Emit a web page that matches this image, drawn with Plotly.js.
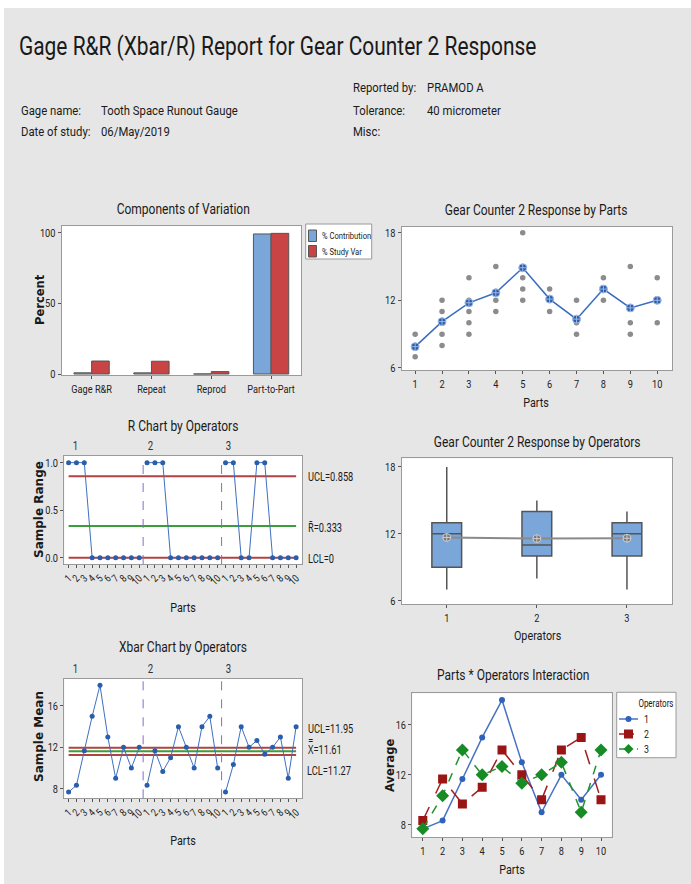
<!DOCTYPE html>
<html>
<head>
<meta charset="utf-8">
<script src="https://cdn.plot.ly/plotly-3.0.1.min.js"></script>
<style>html,body{margin:0;padding:0;background:#e6e6e6;}#chart{width:691px;height:884px;}</style>
</head>
<body>
<div id="chart"></div>
<script>
// ---------------- DATA ----------------
const components = ['Gage R&R', 'Repeat', 'Reprod', 'Part-to-Part'];
const pctContribution = [0.85, 0.82, 0.03, 99.15];
const pctStudyVar = [9.2, 9.05, 1.7, 99.57];
const covLegendNames = ['% Contribution', '% Study Var'];

const parts = [1, 2, 3, 4, 5, 6, 7, 8, 9, 10];
const partLabels = ['1', '2', '3', '4', '5', '6', '7', '8', '9', '10'];
const partMeans = [7.89, 10.11, 11.78, 12.67, 14.89, 12.11, 10.33, 13.0, 11.33, 12.0];
const partObserved = [
  [7, 8, 9], [8, 9, 10, 11, 12], [9, 10, 11, 12, 14], [11, 12, 15], [12, 13, 14, 18],
  [11, 12, 13], [9, 10, 12], [12, 13, 14], [9, 10, 15], [10, 12, 14]
];

const operators = ['1', '2', '3'];
const op1Means = [7.67, 8.33, 11.67, 15, 18, 13, 9, 12, 10, 12];
const op2Means = [8.33, 11.67, 9.67, 11, 14, 12, 10, 14, 15, 10];
const op3Means = [7.67, 10.33, 14, 12, 12.67, 11.33, 12, 13, 9, 14];
const op1Ranges = [1, 1, 1, 0, 0, 0, 0, 0, 0, 0];
const op2Ranges = [1, 1, 1, 0, 0, 0, 0, 0, 0, 0];
const op3Ranges = [1, 1, 0, 0, 1, 1, 0, 0, 0, 0];

const rUCL = 0.858, rBar = 0.333, rLCL = 0;
const xUCL = 11.95, xBarBar = 11.61, xLCL = 11.27;

const boxQ1 = [9, 10, 10];
const boxMedian = [12, 11, 12];
const boxQ3 = [13, 14, 13];
const boxLow = [7, 8, 7];
const boxHigh = [18, 15, 14];
const boxMean = [11.67, 11.57, 11.60];

const headerLeft = [['Gage name:', 'Tooth Space Runout Gauge'], ['Date of study:', '06/May/2019']];
const headerRight = [['Reported by:', 'PRAMOD A'], ['Tolerance:', '40 micrometer'], ['Misc:', '']];

// ---------------- HELPERS ----------------
const W = 691, H = 884;
const px = x => x / W;
const py = y => 1 - y / H;
const NARROW = 'Roboto, "Noto Sans", sans-serif';
const BOLDF = '"DejaVu Sans", Verdana, sans-serif';
const TXT = '#1a1a1a';
const BLUE_BAR = '#7ba6da', RED_BAR = '#c94444';
const DATA_BLUE = '#2a5eab';
const LIM_RED = '#b34242', CTR_GREEN = '#3a9e3a', DIV_PURPLE = '#8a6ad0';
const OP_COLORS = ['#2f62b8', '#9c1515', '#178c26'];
const NO_CONDENSE = ['Percent', 'Sample Range', 'Sample Mean', 'Average'];
const DEFAULT_FACTOR = 0.8;
const textFactor = {};

function dom(a, b) { return [a / W, b / W]; }
function vdom(top, bottom) { return [1 - bottom / H, 1 - top / H]; }

function baseAxis(extra) {
  return Object.assign({
    showline: true, mirror: true, linecolor: '#9a9a9a', linewidth: 1,
    ticks: 'outside', ticklen: 3, tickcolor: '#555', tickwidth: 1,
    showgrid: false, zeroline: false, fixedrange: true,
    tickfont: { family: NARROW, size: 11.5, color: '#222' }
  }, extra);
}

const traces = [];

// 1. Components of variation
traces.push({ type: 'bar', x: components, y: pctContribution, name: covLegendNames[0], xaxis: 'x', yaxis: 'y', showlegend: false,
  marker: { color: BLUE_BAR, line: { color: '#555', width: 1 } }, hoverinfo: 'skip' });
traces.push({ type: 'bar', x: components, y: pctStudyVar, name: covLegendNames[1], xaxis: 'x', yaxis: 'y', showlegend: false,
  marker: { color: RED_BAR, line: { color: '#555', width: 1 } }, hoverinfo: 'skip' });

// 2. Response by parts
const dotX = [], dotY = [];
partObserved.forEach((vals, i) => vals.forEach(v => { dotX.push(parts[i]); dotY.push(v); }));
traces.push({ type: 'scatter', mode: 'markers', x: dotX, y: dotY, xaxis: 'x2', yaxis: 'y2', showlegend: false,
  marker: { color: '#8c8c8c', size: 5.5 }, hoverinfo: 'skip' });
traces.push({ type: 'scatter', mode: 'lines+markers', x: parts, y: partMeans, xaxis: 'x2', yaxis: 'y2', showlegend: false,
  line: { color: '#3a6cbf', width: 1.5 }, marker: { color: DATA_BLUE, size: 8, symbol: 'circle-cross', line: { color: '#9fb8e6', width: 1 } }, hoverinfo: 'skip' });

// 3. R chart & 5. Xbar chart
const idx = [0, 10, 20];
const allX = [];
for (let k = 0; k < 3; k++) parts.forEach(p => allX.push(idx[k] + p));
const tickTextAll = [].concat(partLabels, partLabels, partLabels);
function limitLine(val, color, xa, ya) {
  traces.push({ type: 'scatter', mode: 'lines', x: [allX[0], allX[allX.length - 1]], y: [val, val], xaxis: xa, yaxis: ya,
    showlegend: false, line: { color: color, width: 2 }, hoverinfo: 'skip' });
}
limitLine(rUCL, LIM_RED, 'x3', 'y3'); limitLine(rBar, CTR_GREEN, 'x3', 'y3'); limitLine(rLCL, LIM_RED, 'x3', 'y3');
limitLine(xUCL, LIM_RED, 'x5', 'y5'); limitLine(xBarBar, CTR_GREEN, 'x5', 'y5'); limitLine(xLCL, LIM_RED, 'x5', 'y5');
[[op1Ranges, 0], [op2Ranges, 1], [op3Ranges, 2]].forEach(([r, k]) => {
  traces.push({ type: 'scatter', mode: 'lines+markers', x: parts.map(p => idx[k] + p), y: r, xaxis: 'x3', yaxis: 'y3', showlegend: false,
    line: { color: '#3f6fc0', width: 1 }, marker: { color: DATA_BLUE, size: 5 }, hoverinfo: 'skip' });
});
[[op1Means, 0], [op2Means, 1], [op3Means, 2]].forEach(([m, k]) => {
  traces.push({ type: 'scatter', mode: 'lines+markers', x: parts.map(p => idx[k] + p), y: m, xaxis: 'x5', yaxis: 'y5', showlegend: false,
    line: { color: '#3f6fc0', width: 1 }, marker: { color: DATA_BLUE, size: 5 }, hoverinfo: 'skip' });
});

// 4. Box plot by operators
traces.push({ type: 'box', x: [1, 2, 3], q1: boxQ1, median: boxMedian, q3: boxQ3, lowerfence: boxLow, upperfence: boxHigh,
  xaxis: 'x4', yaxis: 'y4', showlegend: false, width: 0.33, whiskerwidth: 0, boxpoints: false,
  fillcolor: BLUE_BAR, line: { color: '#555', width: 1.5 }, hoverinfo: 'skip' });
traces.push({ type: 'scatter', mode: 'lines+markers', x: [1, 2, 3], y: boxMean, xaxis: 'x4', yaxis: 'y4', showlegend: false,
  line: { color: '#8a8a8a', width: 2 }, marker: { color: '#7a7a7a', size: 8, symbol: 'circle-cross', line: { color: '#cfcfcf', width: 1 } }, hoverinfo: 'skip' });

// 6. Interaction
traces.push({ type: 'scatter', mode: 'lines+markers', x: parts, y: op1Means, name: operators[0], xaxis: 'x6', yaxis: 'y6', showlegend: false,
  line: { color: '#4672c4', width: 1.5 }, marker: { color: OP_COLORS[0], size: 6, symbol: 'circle' }, hoverinfo: 'skip' });
traces.push({ type: 'scatter', mode: 'lines+markers', x: parts, y: op2Means, name: operators[1], xaxis: 'x6', yaxis: 'y6', showlegend: false,
  line: { color: '#a01e1e', width: 1.5, dash: 'longdash' }, marker: { color: OP_COLORS[1], size: 9, symbol: 'square' }, hoverinfo: 'skip' });
traces.push({ type: 'scatter', mode: 'lines+markers', x: parts, y: op3Means, name: operators[2], xaxis: 'x6', yaxis: 'y6', showlegend: false,
  line: { color: '#23902e', width: 1.5, dash: 'dash' }, marker: { color: OP_COLORS[2], size: 10, symbol: 'diamond' }, hoverinfo: 'skip' });

// ---------------- ANNOTATIONS ----------------
const ann = [];
function txt(text, x, y, opts) {
  opts = opts || {};
  const xa = opts.xa || 'center';
  if (opts.factor) textFactor[text.replace(/<[^>]+>/g, '')] = opts.factor;
  ann.push({ text: text, x: px(x), y: py(y), xref: 'paper', yref: 'paper', showarrow: false,
    xanchor: xa, yanchor: opts.ya || 'middle', align: xa, textangle: opts.angle || 0,
    font: { family: opts.family || NARROW, size: opts.size || 13, color: opts.color || TXT } });
}
txt('Gage R&R (Xbar/R) Report for Gear Counter 2 Response', 17, 46, { xa: 'left', size: 25.5, factor: 0.82 });
const headerRows = [88, 110, 131];
headerLeft.forEach((pair, i) => {
  txt(pair[0], 19, headerRows[i + 1], { xa: 'left', size: 13, factor: 0.87 });
  txt(pair[1], 99, headerRows[i + 1], { xa: 'left', size: 13, factor: 0.87 });
});
headerRight.forEach((pair, i) => {
  txt(pair[0], 351, headerRows[i], { xa: 'left', size: 13, factor: 0.87 });
  if (pair[1]) txt(pair[1], 425, headerRows[i], { xa: 'left', size: 13, factor: 0.87 });
});

txt('Components of Variation', 183, 209, { size: 15 });
txt('Gear Counter 2 Response by Parts', 536, 210, { size: 15 });
txt('R Chart by Operators', 183, 426, { size: 15 });
txt('Gear Counter 2 Response by Operators', 537, 442, { size: 15 });
txt('Xbar Chart by Operators', 183, 647, { size: 15 });
txt('Parts * Operators Interaction', 513, 675, { size: 15 });

txt('<b>Percent</b>', 40, 300, { angle: -90, family: BOLDF, size: 11.5 });
txt('<b>Sample Range</b>', 39, 510, { angle: -90, family: BOLDF, size: 12 });
txt('<b>Sample Mean</b>', 39, 737, { angle: -90, family: BOLDF, size: 12 });
txt('<b>Average</b>', 390, 766, { angle: -90, family: BOLDF, size: 11.5 });

txt('Parts', 536, 402, { size: 13.5 });
txt('Parts', 183, 607, { size: 13.5 });
txt('Operators', 537, 635, { size: 13.5 });
txt('Parts', 183, 840, { size: 13.5 });
txt('Parts', 512, 869, { size: 13.5 });

// operator section labels
const opLabelX = [75.7, 150, 228];
operators.forEach((o, i) => { txt(o, opLabelX[i], 446, { size: 12, color: '#333' }); txt(o, opLabelX[i], 669, { size: 12, color: '#333' }); });

// control limit labels
const LIM_F = 0.74;
txt('UCL=' + rUCL, 306, 476, { xa: 'left', size: 12.5, factor: LIM_F });
txt('R\u0304=' + rBar, 306, 527, { xa: 'left', size: 12.5, factor: LIM_F });
txt('LCL=' + rLCL, 306, 558, { xa: 'left', size: 12.5, factor: LIM_F });
txt('UCL=' + xUCL, 306, 728, { xa: 'left', size: 12.5, factor: LIM_F });
txt('X\u033F=' + xBarBar, 306, 748, { xa: 'left', size: 12.5, factor: LIM_F });
txt('LCL=' + xLCL, 305, 770, { xa: 'left', size: 12.5, factor: LIM_F });

// Components-of-variation legend text
txt(covLegendNames[0], 320, 235.5, { xa: 'left', size: 9.5, factor: 0.8 });
txt(covLegendNames[1], 320, 251.5, { xa: 'left', size: 9.5, factor: 0.8 });

// Interaction legend text
txt('Operators', 656, 703, { size: 10 });
const legRowY = [719, 734, 749];
operators.forEach((o, i) => txt(o, 642, legRowY[i], { xa: 'left', size: 11 }));

// ---------------- SHAPES ----------------
const shapes = [
  { type: 'rect', xref: 'paper', yref: 'paper', x0: 0, x1: 1, y0: py(8), y1: 1, fillcolor: '#ffffff', line: { width: 0 }, layer: 'below' },
  { type: 'rect', xref: 'paper', yref: 'paper', x0: 0, x1: px(4), y0: 0, y1: 1, fillcolor: '#ffffff', line: { width: 0 }, layer: 'below' },
  // CoV legend box and swatches
  { type: 'rect', xref: 'paper', yref: 'paper', x0: px(305.7), x1: px(371.7), y0: py(259), y1: py(224), fillcolor: '#ffffff', line: { color: '#9a9a9a', width: 1 } },
  { type: 'rect', xref: 'paper', yref: 'paper', x0: px(308.5), x1: px(316.5), y0: py(241.5), y1: py(230), fillcolor: BLUE_BAR, line: { color: '#555', width: 1 } },
  { type: 'rect', xref: 'paper', yref: 'paper', x0: px(308.5), x1: px(316.5), y0: py(257), y1: py(245.5), fillcolor: RED_BAR, line: { color: '#555', width: 1 } },
  // Interaction legend box
  { type: 'rect', xref: 'paper', yref: 'paper', x0: px(616.7), x1: px(676), y0: py(757.7), y1: py(692.3), fillcolor: '#ffffff', line: { color: '#9a9a9a', width: 1 } }
];
const legDash = ['solid', 'longdash', 'dash'];
const legLine = ['#4672c4', '#a01e1e', '#23902e'];
legRowY.forEach((yy, i) => {
  shapes.push({ type: 'line', xref: 'paper', yref: 'paper', x0: px(619), x1: px(638), y0: py(yy), y1: py(yy), line: { color: legLine[i], width: 1.5, dash: legDash[i] } });
});
const cx = 628.5;
shapes.push({ type: 'circle', xref: 'paper', yref: 'paper', x0: px(cx - 3), x1: px(cx + 3), y0: py(legRowY[0] + 3), y1: py(legRowY[0] - 3), fillcolor: OP_COLORS[0], line: { width: 0 } });
shapes.push({ type: 'rect', xref: 'paper', yref: 'paper', x0: px(cx - 4.5), x1: px(cx + 4.5), y0: py(legRowY[1] + 4.5), y1: py(legRowY[1] - 4.5), fillcolor: OP_COLORS[1], line: { width: 0 } });
shapes.push({ type: 'path', xref: 'paper', yref: 'paper',
  path: 'M ' + px(cx) + ' ' + py(legRowY[2] - 5) + ' L ' + px(cx + 5) + ' ' + py(legRowY[2]) + ' L ' + px(cx) + ' ' + py(legRowY[2] + 5) + ' L ' + px(cx - 5) + ' ' + py(legRowY[2]) + ' Z',
  fillcolor: OP_COLORS[2], line: { width: 0 } });
[10.5, 20.5].forEach(v => {
  shapes.push({ type: 'line', xref: 'x3', yref: 'y3 domain', x0: v, x1: v, y0: 0, y1: 1, line: { color: DIV_PURPLE, width: 1, dash: 'dash' } });
  shapes.push({ type: 'line', xref: 'x5', yref: 'y5 domain', x0: v, x1: v, y0: 0, y1: 1, line: { color: DIV_PURPLE, width: 1, dash: 'dash' } });
});

// ---------------- LAYOUT ----------------
const layout = {
  width: W, height: H, autosize: false,
  margin: { l: 0, r: 0, t: 0, b: 0 },
  paper_bgcolor: '#e6e6e6', plot_bgcolor: '#ffffff',
  barmode: 'group', bargap: 0.41, bargroupgap: 0,
  font: { family: NARROW, color: TXT },
  xaxis: baseAxis({ domain: dom(61.7, 301), anchor: 'y', type: 'category' }),
  yaxis: baseAxis({ domain: vdom(225.7, 375), anchor: 'x', range: [-0.7, 105], tickvals: [0, 50, 100] }),
  xaxis2: baseAxis({ domain: dom(401.7, 672), anchor: 'y2', range: [0.5, 10.55], tickvals: parts, ticktext: partLabels }),
  yaxis2: baseAxis({ domain: vdom(226.7, 370), anchor: 'x2', range: [5.82, 18.53], tickvals: [6, 12, 18] }),
  xaxis3: baseAxis({ domain: dom(64.3, 302), anchor: 'y3', range: [0.45, 30.75], tickvals: allX, ticktext: tickTextAll, tickangle: -45, tickfont: { family: NARROW, size: 10.5, color: '#222' } }),
  yaxis3: baseAxis({ domain: vdom(456, 564), anchor: 'x3', range: [-0.066, 1.07], tickvals: [0, 0.5, 1], tickformat: '.1f' }),
  xaxis4: baseAxis({ domain: dom(401.7, 672), anchor: 'y4', range: [0.5, 3.5], tickvals: [1, 2, 3], ticktext: operators }),
  yaxis4: baseAxis({ domain: vdom(458.3, 604), anchor: 'x4', range: [5.7, 18.78], tickvals: [6, 12, 18] }),
  xaxis5: baseAxis({ domain: dom(64.3, 302), anchor: 'y5', range: [0.45, 30.75], tickvals: allX, ticktext: tickTextAll, tickangle: -45, tickfont: { family: NARROW, size: 10.5, color: '#222' } }),
  yaxis5: baseAxis({ domain: vdom(679, 798.3), anchor: 'x5', range: [7.07, 18.61], tickvals: [8, 12, 16] }),
  xaxis6: baseAxis({ domain: dom(412.3, 611.7), anchor: 'y6', range: [0.47, 10.54], tickvals: parts, ticktext: partLabels }),
  yaxis6: baseAxis({ domain: vdom(693.3, 837.3), anchor: 'x6', range: [6.99, 18.54], tickvals: [8, 12, 16] }),
  annotations: ann,
  shapes: shapes,
  showlegend: false
};

Plotly.newPlot('chart', traces, layout, { displayModeBar: false, staticPlot: true }).then(() => {
  // condense text horizontally to mimic the narrow report font
  document.querySelectorAll('#chart svg text').forEach(t => {
    const content = (t.textContent || '').trim();
    if (!content || NO_CONDENSE.indexOf(content) >= 0) return;
    const factor = textFactor[content] || DEFAULT_FACTOR;
    const w = t.getComputedTextLength();
    if (!(w > 0)) return;
    const nw = w * factor;
    t.setAttribute('textLength', nw.toFixed(2));
    t.setAttribute('lengthAdjust', 'spacingAndGlyphs');
    const g = t.closest('.annotation');
    if (g) {
      const rect = g.querySelector('rect.bg');
      if (rect) {
        const ow = parseFloat(rect.getAttribute('width'));
        const rx = parseFloat(rect.getAttribute('x')) || 0;
        const d = w - nw;
        const anchor = t.getAttribute('text-anchor') || 'middle';
        rect.setAttribute('width', Math.max(1, ow - d).toFixed(2));
        if (anchor === 'middle') rect.setAttribute('x', (rx + d / 2).toFixed(2));
        else if (anchor === 'end') rect.setAttribute('x', (rx + d).toFixed(2));
      }
    }
  });
});
</script>
</body>
</html>
